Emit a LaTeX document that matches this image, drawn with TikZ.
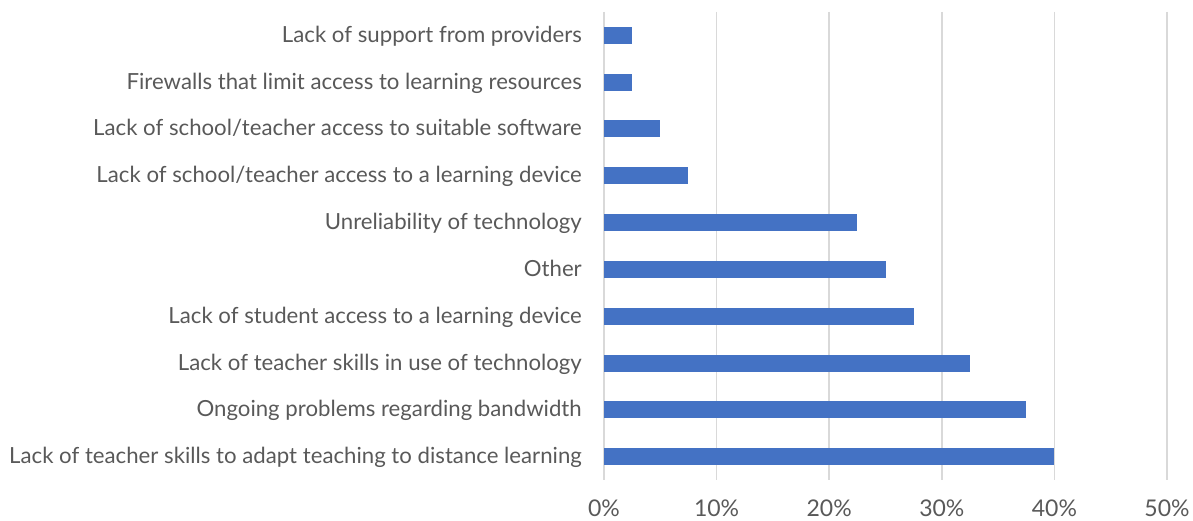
\documentclass[tikz,border=0pt]{standalone}
\usepackage{fontspec}
\setmainfont{Lato}
\definecolor{barblue}{HTML}{4472C4}
\definecolor{gridgray}{HTML}{D9D9D9}
\definecolor{txtgray}{HTML}{595959}
\begin{document}
\begin{tikzpicture}[x=1pt,y=1pt,
  font=\fontsize{22.2}{24}\selectfont,
  catlab/.style={anchor=base east,text=txtgray,inner sep=0pt},
  ticklab/.style={anchor=base,text=txtgray,inner sep=0pt,font=\fontsize{23}{25}\selectfont},
  gridline/.style={draw=gridgray,line width=1.6pt},
  barfill/.style={fill=barblue}]
\useasboundingbox (0,0) rectangle (1193,-521);
\foreach \i in {0,...,5} {
  \coordinate (gt\i) at (604+112.6*\i,-12);
  \coordinate (gb\i) at (604+112.6*\i,-480);
  \draw[gridline] (gt\i) -- (gb\i);
  \pgfmathtruncatemacro\pc{10*\i}
  \node[ticklab] (tick\i) at (604+112.6*\i,-516) {\pc\%};
}
\foreach \v/\t [count=\k] in {
  2.5/{Lack of support from providers},
  2.5/{Firewalls that limit access to learning resources},
  5/{Lack of school/teacher access to suitable software},
  7.5/{Lack of school/teacher access to a learning device},
  22.5/{Unreliability of technology},
  25/{Other},
  27.5/{Lack of student access to a learning device},
  32.5/{Lack of teacher skills in use of technology},
  37.5/{Ongoing problems regarding bandwidth},
  40/{Lack of teacher skills to adapt teaching to distance learning}} {
  \pgfmathsetmacro\yc{-12-46.8*(\k-0.5)}
  \fill[barfill] (604,\yc+8.5) rectangle (604+11.26*\v,\yc-8.5);
  \node[catlab] (cat\k) at (582,\yc-7) {\t};
}
\end{tikzpicture}
\end{document}
